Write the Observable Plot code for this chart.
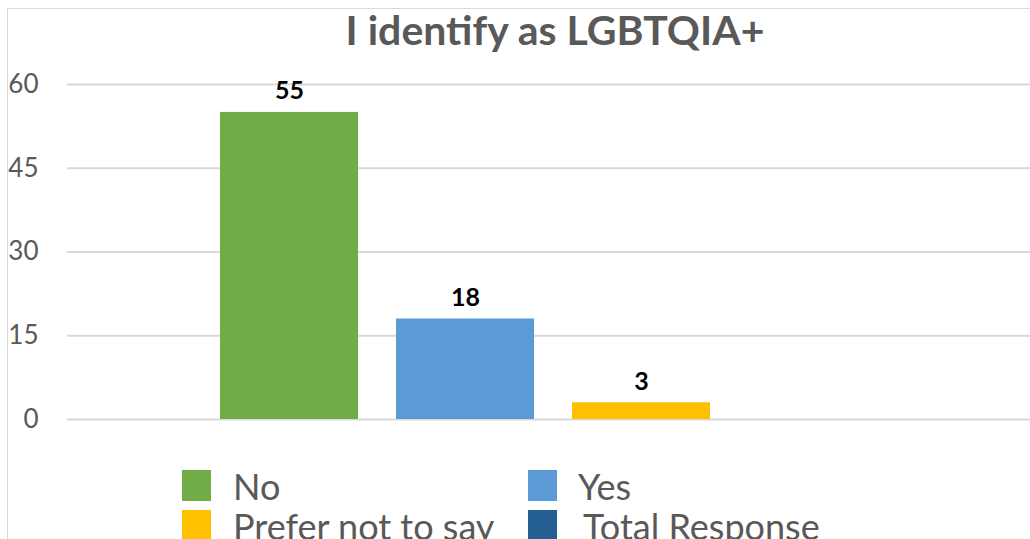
<!DOCTYPE html>
<html>
<head>
<meta charset="utf-8">
<script src="https://cdn.jsdelivr.net/npm/d3@7"></script>
<script src="https://cdn.jsdelivr.net/npm/@observablehq/plot@0.6"></script>
<style>
  html, body { margin: 0; padding: 0; background: #fff; }
  #wrap { position: relative; width: 1030px; height: 539px; overflow: hidden; font-family: Lato, "Open Sans", sans-serif; }
  #frame { position: absolute; left: 7px; top: 8px; width: 1100px; height: 600px; border-left: 1.5px solid #d9d9d9; border-top: 1.5px solid #d9d9d9; }
  #chart { position: absolute; left: 0; top: 0; }
  #title { position: absolute; left: 555px; top: 9px; transform: translateX(-50%); white-space: nowrap; font-size: 41px; line-height: 41px; font-weight: bold; color: #595959; }
  .lg { position: absolute; font-size: 36px; line-height: 36px; color: #595959; white-space: nowrap; }
  .sw { position: absolute; width: 29px; height: 31px; }
</style>
</head>
<body>
<div id="wrap">
  <div id="frame"></div>
  <div id="chart"></div>
  <div id="title"></div>
  <div id="legend"></div>
</div>
<script>
const title = "I identify as LGBTQIA+";
const categories = ["No", "Yes", "Prefer not to say", "Total Response"];
const values = [55, 18, 3, null];
const colors = ["#70ad47", "#5b9bd5", "#ffc000", "#255e91"];
const yTicks = [0, 15, 30, 45, 60];

const data = categories.map((c, i) => ({category: c, value: values[i]}));

document.getElementById("title").textContent = title;

const chart = Plot.plot({
  width: 1030,
  height: 460,
  marginLeft: 67,
  marginRight: 0,
  marginTop: 84,
  marginBottom: 41,
  style: {fontFamily: "Lato, 'Open Sans', sans-serif", background: "transparent"},
  x: {domain: categories, paddingInner: 0.215, paddingOuter: 0.835, align: 0.515, axis: null},
  y: {domain: [0, 60], ticks: yTicks, label: null},
  color: {domain: categories, range: colors},
  marks: [
    Plot.ruleY(yTicks, {stroke: "#d9d9d9", strokeWidth: 2}),
    Plot.axisY({ticks: yTicks, tickSize: 0, tickPadding: 29, fontSize: 26, fill: "#595959", label: null}),
    Plot.barY(data.filter(d => d.value != null), {x: "category", y: "value", fill: "category"}),
    Plot.text(data.filter(d => d.value != null), {x: "category", y: "value", text: d => String(d.value), lineAnchor: "bottom", dy: -13, fontSize: 25, fontWeight: "bold", fill: "#000"})
  ]
});
document.getElementById("chart").appendChild(chart);

// legend
const legendPos = [
  {sx: 182, tx: 233, sy: 470, ty: 468},
  {sx: 528, tx: 578, sy: 470, ty: 468},
  {sx: 182, tx: 233, sy: 510, ty: 508},
  {sx: 528, tx: 583, sy: 510, ty: 508}
];
const lg = document.getElementById("legend");
categories.forEach((c, i) => {
  const p = legendPos[i];
  const s = document.createElement("div");
  s.className = "sw";
  s.style.left = p.sx + "px"; s.style.top = p.sy + "px"; s.style.background = colors[i];
  lg.appendChild(s);
  const t = document.createElement("div");
  t.className = "lg";
  t.style.left = p.tx + "px"; t.style.top = p.ty + "px";
  t.textContent = c;
  lg.appendChild(t);
});
</script>
</body>
</html>
